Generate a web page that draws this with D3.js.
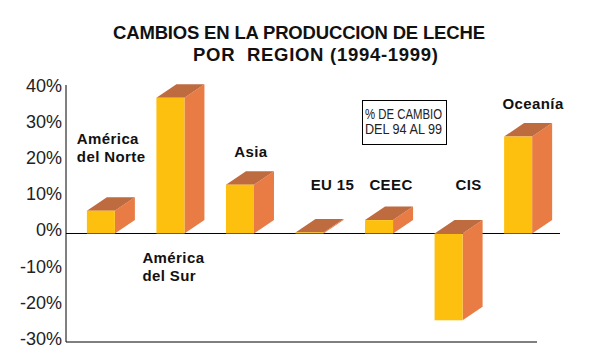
<!DOCTYPE html>
<html><head><meta charset="utf-8">
<script src="https://cdn.jsdelivr.net/npm/d3@7"></script>
<style>body{margin:0;background:#fff}svg{display:block}</style>
</head><body><svg id="c" width="597" height="358"></svg>
<script>
const categories = ["América del Norte","América del Sur","Asia","EU 15","CEEC","CIS","Oceanía"];
const values = [6.3, 37.5, 13.5, 0.3, 3.7, -24, 26.8];
const tickValues = [-30,-20,-10,0,10,20,30,40];
const tickLabels = ["-30%","-20%","-10%","0%","10%","20%","30%","40%"];
const titleLines = ["CAMBIOS EN LA PRODUCCION DE LECHE","POR\u00a0 REGION (1994-1999)"];
const legendLines = ["% DE CAMBIO","DEL 94 AL 99"];
const labelLines = [["América","del Norte"],["América","del Sur"],["Asia"],["EU 15"],["CEEC"],["CIS"],["Oceanía"]];

const svg = d3.select("#c");
const font = "Arial, 'Liberation Sans', Helvetica, sans-serif";
const y = d3.scaleLinear().domain([-30,40]).range([342,88.8]);
const x = d3.scaleBand().domain(categories).range([66,553]).paddingInner(0.597).paddingOuter(0.3);
const w = x.bandwidth(), dx = 20, dy = 13.5;

// title
const titleLayout = [{cx:299, y:39, len:372},{cx:315.5, y:61, len:245}];
svg.append("g").selectAll("text").data(titleLines).join("text")
  .attr("x",(d,i)=>titleLayout[i].cx).attr("y",(d,i)=>titleLayout[i].y)
  .attr("textLength",(d,i)=>titleLayout[i].len).attr("lengthAdjust","spacing")
  .attr("text-anchor","middle").attr("font-family",font).attr("font-weight","bold")
  .attr("font-size",18.5).attr("fill","#111").text(d=>d);

// axis
svg.append("line").attr("x1",66).attr("x2",66).attr("y1",85).attr("y2",y(-30)).attr("stroke","#000");
svg.append("line").attr("x1",66).attr("x2",537).attr("y1",y(-30)).attr("y2",y(-30)).attr("stroke","#000");
svg.append("line").attr("x1",66).attr("x2",560).attr("y1",y(0)).attr("y2",y(0)).attr("stroke","#000");
svg.append("g").selectAll("text").data(tickValues).join("text")
  .attr("x",62).attr("y",d=>y(d)+3).attr("text-anchor","end")
  .attr("font-family",font).attr("font-size",18).attr("fill","#222")
  .text((d,i)=>tickLabels[i]);

// bars
const g = svg.append("g");
categories.forEach((c,i)=>{
  const v = values[i], x0 = x(c);
  const yt = y(Math.max(0,v)), yb = y(Math.min(0,v));
  g.append("polygon").attr("fill","#E97B45")
    .attr("points",[[x0+w,yt],[x0+w+dx,yt-dy],[x0+w+dx,yb-dy],[x0+w,yb]].join(" "));
  g.append("polygon").attr("fill","#BF6B40")
    .attr("points",[[x0,yt],[x0+dx,yt-dy],[x0+w+dx,yt-dy],[x0+w,yt]].join(" "));
  g.append("rect").attr("x",x0).attr("y",yt).attr("width",w).attr("height",Math.max(0,yb-yt)).attr("fill","#FEC00F");
});

// category labels (offsets relative to bar)
const labelPos = [
  {dx:-10, y:144, anchor:"start"},
  {dx:-14, y:263, anchor:"start"},
  {dx:25, y:157, anchor:"middle"},
  {dx:37, y:190, anchor:"middle"},
  {dx:26, y:190, anchor:"middle"},
  {dx:34, y:190, anchor:"middle"},
  {dx:29, y:109, anchor:"middle"}
];
categories.forEach((c,i)=>{
  const p = labelPos[i];
  const t = svg.append("text").attr("font-family",font).attr("font-weight","bold")
    .attr("font-size",15).attr("letter-spacing",0.4).attr("fill","#111").attr("text-anchor",p.anchor);
  labelLines[i].forEach((l,j)=>{
    t.append("tspan").attr("x",x(c)+p.dx).attr("y",p.y+j*17.5).text(l);
  });
});

// legend box
svg.append("rect").attr("x",362.5).attr("y",100.5).attr("width",84).attr("height",44)
  .attr("fill","none").attr("stroke","#000").attr("stroke-width",1);
svg.append("g").selectAll("text").data(legendLines).join("text")
  .attr("x",365).attr("y",(d,i)=>118.5+i*15)
  .attr("font-family","'Liberation Sans Narrow', 'Arial Narrow', Arial, sans-serif")
  .attr("font-stretch","condensed").attr("font-size",14).attr("fill","#222")
  .attr("textLength",77).attr("lengthAdjust","spacingAndGlyphs").text(d=>d);
</script></body></html>
